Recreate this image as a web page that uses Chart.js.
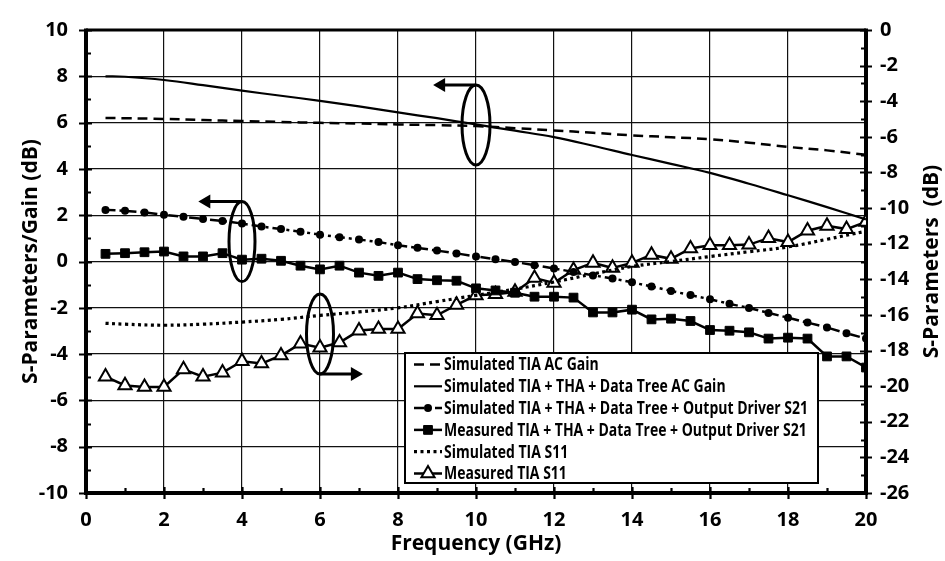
<!DOCTYPE html>
<html><head><meta charset="utf-8">
<script src="https://cdn.jsdelivr.net/npm/chart.js@4.4.0/dist/chart.umd.min.js"></script>
<style>html,body{margin:0;padding:0;background:#fff}#wrap{width:945px;height:561px;position:relative}</style>
</head><body><div id="wrap"><canvas id="c" width="945" height="561"></canvas></div>
<script>
// ---- data ----
const freqHalf = [0.5,1,1.5,2,2.5,3,3.5,4,4.5,5,5.5,6,6.5,7,7.5,8,8.5,9,9.5,10,10.5,11,11.5,12,12.5,13,13.5,14,14.5,15,15.5,16,16.5,17,17.5,18,18.5,19,19.5,20];
const freqCurve = [0.5,1,2,3,4,5,6,7,8,9,10,11,12,13,14,15,16,17,18,19,20];
const simTiaGain = [6.20,6.19,6.16,6.11,6.07,6.03,5.99,5.96,5.92,5.89,5.85,5.76,5.66,5.56,5.45,5.37,5.28,5.13,4.95,4.80,4.61];
const simChainGain = [8.00,7.98,7.84,7.62,7.38,7.16,6.94,6.70,6.44,6.19,5.92,5.65,5.37,5.00,4.60,4.22,3.83,3.36,2.86,2.35,1.82];
const simS21 = [2.23,2.19,2.12,2.02,1.93,1.84,1.75,1.64,1.51,1.40,1.29,1.16,1.05,0.95,0.84,0.70,0.59,0.47,0.35,0.22,0.10,-0.02,-0.16,-0.30,-0.45,-0.60,-0.73,-0.90,-1.08,-1.27,-1.45,-1.63,-1.83,-2.01,-2.22,-2.43,-2.64,-2.85,-3.10,-3.33];
const measS21 = [0.33,0.36,0.40,0.43,0.22,0.22,0.36,0.08,0.12,0.03,-0.18,-0.34,-0.18,-0.48,-0.62,-0.48,-0.76,-0.81,-0.83,-1.16,-1.25,-1.35,-1.52,-1.52,-1.56,-2.20,-2.20,-2.08,-2.50,-2.47,-2.57,-2.96,-2.99,-3.06,-3.33,-3.29,-3.33,-4.10,-4.10,-4.58];
const simS11 = [-16.47,-16.52,-16.58,-16.52,-16.40,-16.25,-16.03,-15.83,-15.60,-15.25,-14.90,-14.55,-14.15,-13.70,-13.28,-13.00,-12.72,-12.45,-12.18,-11.75,-11.30];
const measS11 = [-19.47,-19.96,-20.05,-20.05,-19.06,-19.47,-19.24,-18.60,-18.73,-18.28,-17.61,-17.84,-17.55,-16.88,-16.79,-16.79,-15.92,-16.02,-15.44,-14.90,-14.84,-14.71,-13.93,-14.20,-13.48,-13.08,-13.36,-13.08,-12.63,-12.85,-12.27,-12.09,-12.09,-12.05,-11.69,-11.91,-11.27,-11.00,-11.18,-10.78];
const seriesLabels = [
  'Simulated TIA AC Gain',
  'Simulated TIA + THA + Data Tree AC Gain',
  'Simulated TIA + THA + Data Tree + Output Driver S21',
  'Measured TIA + THA + Data Tree + Output Driver S21',
  'Simulated TIA S11',
  'Measured TIA S11'
];
const xTitle = 'Frequency (GHz)';
const yLeftTitle = 'S-Parameters/Gain (dB)';
const yRightTitle = 'S-Parameters  (dB)';

const pts = (xs, ys) => xs.map((x, i) => ({x, y: ys[i]}));
const FONT = '"Open Sans", "Liberation Sans", sans-serif';

const axisDeco = {
  id: 'axisDeco',
  beforeDatasetsDraw(chart) {
    const {ctx, chartArea: a, scales: {x, y, y2}} = chart;
    ctx.save();
    ctx.strokeStyle = '#000';
    ctx.lineCap = 'butt';
    ctx.lineWidth = 2.2;
    ctx.beginPath();
    for (let v = -10; v <= 10; v++) {
      const p = Math.round(y.getPixelForValue(v)) + 0.5, major = v % 2 === 0;
      ctx.moveTo(a.left - (major ? 7 : 0), p); ctx.lineTo(a.left + (major ? 6 : 5), p);
    }
    for (let v = -26; v <= 0; v++) {
      const p = Math.round(y2.getPixelForValue(v)) + 0.5, major = v % 2 === 0;
      ctx.moveTo(a.right + (major ? 6 : 0), p); ctx.lineTo(a.right - (major ? 6 : 5), p);
    }
    for (let v = 0; v <= 20; v++) {
      const p = Math.round(x.getPixelForValue(v)) + 0.5, major = v % 2 === 0;
      ctx.moveTo(p, a.bottom + (major ? 6 : 0)); ctx.lineTo(p, a.bottom - (major ? 6 : 5));
    }
    ctx.stroke();
    ctx.lineWidth = 3;
    ctx.beginPath(); ctx.moveTo(a.left, a.top); ctx.lineTo(a.right, a.top); ctx.stroke();
    ctx.lineWidth = 4;
    ctx.beginPath();
    ctx.moveTo(a.left, a.top - 1.5); ctx.lineTo(a.left, a.bottom + 2);
    ctx.moveTo(a.left - 2, a.bottom); ctx.lineTo(a.right + 2, a.bottom);
    ctx.moveTo(a.right, a.bottom + 2); ctx.lineTo(a.right, a.top - 1.5);
    ctx.stroke();
    ctx.restore();
  }
};

const annotations = {
  id: 'annotations',
  afterDatasetsDraw(chart) {
    const {ctx, scales: {x, y}} = chart;
    const marks = [
      {cx: 10, cy: 5.9, rx: 14, ry: 40, tipX: 8.9, side: 'top'},
      {cx: 4, cy: 0.86, rx: 13, ry: 40, tipX: 2.88, side: 'top'},
      {cx: 6, cy: -3.13, rx: 13.5, ry: 40, tipX: 7.1, side: 'bottom'}
    ];
    ctx.save();
    ctx.strokeStyle = '#000'; ctx.fillStyle = '#000'; ctx.lineWidth = 3;
    marks.forEach(m => {
      const px = x.getPixelForValue(m.cx), py = y.getPixelForValue(m.cy);
      ctx.beginPath(); ctx.ellipse(px, py, m.rx, m.ry, 0, 0, Math.PI * 2); ctx.stroke();
      const ay = m.side === 'top' ? py - m.ry : py + m.ry;
      const tx = x.getPixelForValue(m.tipX);
      const dir = tx < px ? -1 : 1;
      ctx.beginPath(); ctx.moveTo(px, ay); ctx.lineTo(tx - dir * 9, ay); ctx.stroke();
      ctx.beginPath(); ctx.moveTo(tx, ay); ctx.lineTo(tx - dir * 12, ay - 7); ctx.lineTo(tx - dir * 12, ay + 7); ctx.closePath(); ctx.fill();
    });
    ctx.restore();
  }
};

const legendBox = {
  id: 'legendBox',
  afterDatasetsDraw(chart) {
    const {ctx} = chart;
    const L = 405, T = 353, R = 818, B = 483;
    ctx.save();
    ctx.fillStyle = '#fff'; ctx.fillRect(L, T, R - L, B - T);
    ctx.lineWidth = 2; ctx.strokeStyle = '#000'; ctx.strokeRect(L, T, R - L, B - T);
    ctx.font = 'bold 17px ' + FONT;
    let maxW = 0;
    chart.data.datasets.forEach(ds => { maxW = Math.max(maxW, ctx.measureText(ds.label).width); });
    const sx = Math.min(1, 364 / maxW);
    chart.data.datasets.forEach((ds, i) => {
      const yy = T + 11.5 + i * 21.8;
      ctx.save();
      ctx.setLineDash(ds.borderDash || []);
      ctx.lineWidth = ds.borderWidth; ctx.strokeStyle = ds.borderColor;
      ctx.beginPath(); ctx.moveTo(414, yy); ctx.lineTo(442, yy); ctx.stroke();
      ctx.restore();
      if (ds.pointRadius > 0) {
        ctx.save();
        ctx.fillStyle = ds.pointBackgroundColor; ctx.strokeStyle = ds.pointBorderColor;
        ctx.lineWidth = ds.pointBorderWidth;
        Chart.helpers.drawPoint(ctx, {pointStyle: ds.pointStyle, radius: ds.pointRadius, borderWidth: ds.pointBorderWidth, rotation: 0}, 428, yy);
        ctx.restore();
      }
      ctx.save();
      ctx.fillStyle = '#000'; ctx.textBaseline = 'middle'; ctx.textAlign = 'left';
      ctx.translate(444, yy); ctx.scale(sx, 1);
      ctx.fillText(ds.label, 0, 1);
      ctx.restore();
    });
    ctx.restore();
  },
  afterDraw(chart) {
    const {ctx, chartArea: a} = chart;
    ctx.save();
    ctx.font = 'bold 21px ' + FONT;
    ctx.fillStyle = '#000'; ctx.textAlign = 'center'; ctx.textBaseline = 'middle';
    ctx.translate(932, (a.top + a.bottom) / 2); ctx.rotate(-Math.PI / 2);
    ctx.fillText(yRightTitle, 0, 0);
    ctx.restore();
  }
};

const gridCfg = {color: '#111', lineWidth: 1.2, drawTicks: false};
const tickFont = {family: FONT, size: 20, weight: 'bold'};
const titleFont = {family: FONT, size: 21, weight: 'bold'};

new Chart(document.getElementById('c'), {
  type: 'line',
  data: {
    datasets: [
      {label: seriesLabels[0], data: pts(freqCurve, simTiaGain), yAxisID: 'y', borderColor: '#000', borderWidth: 2.5, borderDash: [10, 6], pointRadius: 0, tension: 0.4, fill: false},
      {label: seriesLabels[1], data: pts(freqCurve, simChainGain), yAxisID: 'y', borderColor: '#000', borderWidth: 2.2, pointRadius: 0, tension: 0.4, fill: false},
      {label: seriesLabels[2], data: pts(freqHalf, simS21), yAxisID: 'y', borderColor: '#000', borderWidth: 2.5, borderDash: [10, 4, 3, 4], pointStyle: 'circle', pointRadius: 4, pointBorderWidth: 0, pointBackgroundColor: '#000', pointBorderColor: '#000', tension: 0, fill: false},
      {label: seriesLabels[3], data: pts(freqHalf, measS21), yAxisID: 'y', borderColor: '#000', borderWidth: 2.5, pointStyle: 'rect', pointRadius: 6.2, pointBorderWidth: 1, pointBackgroundColor: '#000', pointBorderColor: '#000', tension: 0, fill: false},
      {label: seriesLabels[4], data: pts(freqCurve, simS11), yAxisID: 'y2', borderColor: '#000', borderWidth: 3.2, borderDash: [3, 3.5], pointRadius: 0, tension: 0.4, fill: false},
      {label: seriesLabels[5], data: pts(freqHalf, measS11), yAxisID: 'y2', borderColor: '#000', borderWidth: 2.5, pointStyle: 'triangle', pointRadius: 7.6, pointBorderWidth: 2, pointBackgroundColor: '#fff', pointBorderColor: '#000', tension: 0, fill: false}
    ]
  },
  options: {
    responsive: false, animation: false, devicePixelRatio: 1,
    layout: {padding: {top: 14, left: 0, right: 0, bottom: 0}},
    plugins: {legend: {display: false}, tooltip: {enabled: false}},
    scales: {
      x: {type: 'linear', min: 0, max: 20, border: {display: false}, grid: gridCfg,
          ticks: {stepSize: 2, font: tickFont, color: '#000', padding: 15, maxRotation: 0},
          title: {display: true, text: xTitle, font: titleFont, color: '#000', padding: {top: 0, bottom: 4}},
          afterFit(s) { s.height = 68; }},
      y: {type: 'linear', position: 'left', min: -10, max: 10, border: {display: false}, grid: gridCfg,
          ticks: {stepSize: 2, font: tickFont, color: '#000', padding: 18},
          title: {display: true, text: yLeftTitle, font: titleFont, color: '#000', padding: {top: 18, bottom: 0}},
          afterFit(s) { s.width = 86; }},
      y2: {type: 'linear', position: 'right', min: -26, max: 0, border: {display: false}, grid: {display: false, drawTicks: false},
          ticks: {stepSize: 2, font: tickFont, color: '#000', padding: 14},
          title: {display: false},
          afterFit(s) { s.width = 79; }}
    }
  },
  plugins: [axisDeco, annotations, legendBox]
});
</script>
</body></html>
